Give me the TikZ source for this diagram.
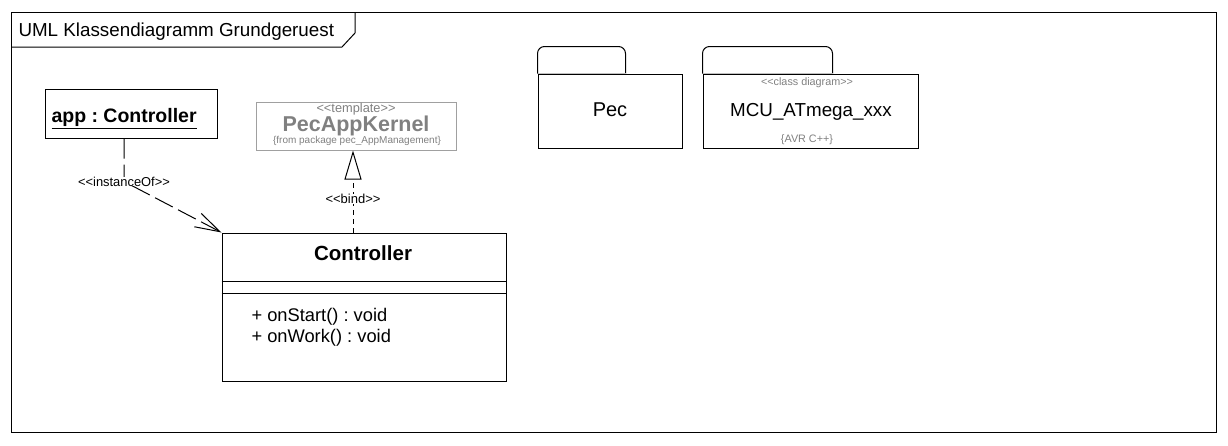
\documentclass[tikz,border=0pt]{standalone}
\usepackage{fontspec}
\setmainfont{Liberation Sans}
\usetikzlibrary{arrows.meta, positioning}

\definecolor{tmplgray}{RGB}{160,160,160}
\definecolor{textgray}{RGB}{128,128,128}
\definecolor{tabgray}{RGB}{192,192,192}
\newcommand{\stereo}[1]{<{}<#1>{}>}
\newcommand{\fsz}[1]{\fontsize{#1}{#1}\selectfont}

\begin{document}
\frenchspacing
\begin{tikzpicture}[x=1pt, y=-1pt, line width=1pt, inner sep=0pt,
    cls/.style={draw, minimum width=284pt, minimum height=148pt},
    obj/.style={draw, minimum width=172pt, minimum height=49pt},
    tmpl/.style={draw=tmplgray, minimum width=200pt, minimum height=48pt},
    pkg/.style={draw, minimum height=74pt},
    txt/.style={anchor=base},
    ltxt/.style={anchor=base west},
    gtxt/.style={anchor=base, text=textgray},
    lbl/.style={fill=white, font=\fsz{12.9}}]
    \useasboundingbox (0,0) rectangle (1228,445);

    % frame
    \draw (11,12) rectangle (1216,432);
    \draw (11,47) -- (342,47) -- (355,33) -- (355,12);
    \node[ltxt, font=\fsz{18.8}] (title) at (18,36) {UML Klassendiagramm Grundgeruest};

    % object
    \node[obj] (app) at (131,113.5) {};
    \node[ltxt, font=\fsz{19.5}\bfseries] (appname) at (51,122.7) {\underline{app : Controller}};

    % template
    \node[tmpl] (kernel) at (356,126) {};
    \node[gtxt, font=\fsz{12.8}] (kernelst) at (356,112) {\stereo{template}};
    \node[gtxt, font=\fsz{21.5}\bfseries] (kernelname) at (356,131) {PecAppKernel};
    \node[gtxt, font=\fsz{10}] (kernelpkg) at (357,143) {\{from package pec\_AppManagement\}};

    % class
    \node[cls] (ctrl) at (364,307) {};
    \node[txt, font=\fsz{20.5}\bfseries] (ctrlname) at (363,260.7) {Controller};
    \draw ([yshift=-49]ctrl.north west) -- ([yshift=-49]ctrl.north east);
    \draw ([yshift=-61]ctrl.north west) -- ([yshift=-61]ctrl.north east);
    \node[ltxt, font=\fsz{18.3}] (op1) at (251,321.7) {+ onStart() : void};
    \node[ltxt, font=\fsz{18.3}] (op2) at (251,342.7) {+ onWork() : void};

    % packages
    \node[pkg, minimum width=144pt] (pec) at (610,111) {};
    \draw[rounded corners=7pt] (pec.north west) -- ++(0,-27) -- ++(88,0) -- ++(0,27);
    \draw[tabgray] (pec.north west) -- ++(88,0);
    \node[txt, font=\fsz{20}] (pecname) at (610,116) {Pec};

    \node[pkg, minimum width=215pt] (mcu) at (810.5,111) {};
    \draw[rounded corners=7pt] (mcu.north west) -- ++(0,-27) -- ++(130,0) -- ++(0,27);
    \draw[tabgray] (mcu.north west) -- ++(130,0);
    \node[gtxt, font=\fsz{10.8}] (mcust) at (807,85.7) {\stereo{class diagram}};
    \node[txt, font=\fsz{18.8}] (mcuname) at (811,116) {MCU\_ATmega\_xxx};
    \node[gtxt, font=\fsz{10.8}] (mcutag) at (807,142.7) {\{AVR C++\}};

    % relations
    \coordinate (bindx) at (353,0);
    \draw[dash pattern=on 20pt off 6pt, -{Straight Barb[length=25pt, width=15pt]}]
        ([xshift=-7]app.south) -- ++(0,43) node[lbl] {\stereo{instanceOf}} -- (ctrl.north west);
    \draw[dash pattern=on 5pt off 4pt, -{Triangle[open, length=29pt, width=17pt]}]
        (ctrl.north -| bindx) -- (kernel.south -| bindx)
        node[lbl, font=\fsz{13}, pos=0.41] {\stereo{bind}};
\end{tikzpicture}
\end{document}
